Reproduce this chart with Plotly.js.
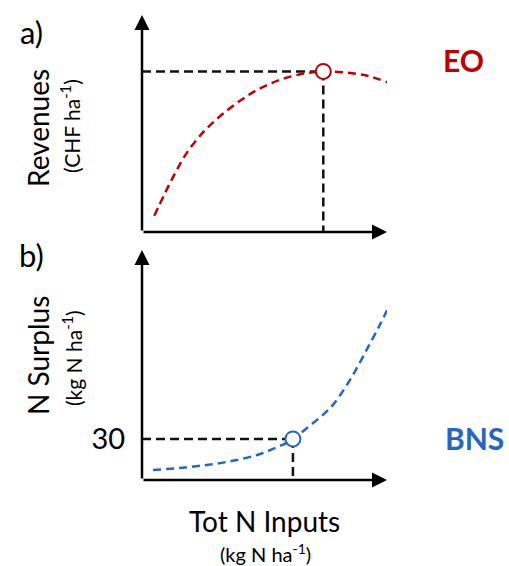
<!DOCTYPE html>
<html>
<head>
<meta charset="utf-8">
<script src="https://cdn.plot.ly/plotly-3.0.1.min.js"></script>
<style>html,body{margin:0;padding:0;background:#fff;}#chart{width:509px;height:566px;}</style>
</head>
<body>
<div id="chart"></div>
<script>
// Panel a: revenues (schematic), x in arbitrary units 0-100
const revX = [5, 9, 13, 18, 25, 32, 40, 47, 56, 66, 74, 82, 92, 100];
const revY = [7.5, 17, 26, 36, 46, 53.5, 60.5, 65.5, 70, 73, 74, 73.6, 72, 69];
const eoX = [74];
const eoY = [74];
// Panel b: N surplus (kg N/ha), x in same units
const surX = [4.5, 15.5, 26.5, 37, 47, 53.5, 59, 61.6, 67, 77, 84, 89, 93, 97, 100];
const surY = [7.3, 8.8, 11, 14, 18.3, 22.7, 27.1, 30, 37.5, 53, 70.5, 86, 99.5, 113, 124];
const bnsX = [61.6];
const bnsY = [30];
const yTickVals = [30];
const yTickText = ['30'];

const W = 509, H = 566;
const px = v => v / W;
const py = v => 1 - v / H;
const FONT = 'Lato, "Open Sans", sans-serif';
const RED = '#c00000';
const BLUE = '#2566c4';

const traces = [
  {x: [0, eoX[0]], y: [eoY[0], eoY[0]], xaxis: 'x', yaxis: 'y', mode: 'lines',
   line: {color: '#111', width: 2.5, dash: '9px,5px'}, hoverinfo: 'skip'},
  {x: [eoX[0], eoX[0]], y: [eoY[0], 0], xaxis: 'x', yaxis: 'y', mode: 'lines',
   line: {color: '#111', width: 2.5, dash: '9px,5px'}, hoverinfo: 'skip'},
  {x: revX, y: revY, xaxis: 'x', yaxis: 'y', mode: 'lines',
   line: {color: RED, width: 2.5, dash: '8px,5px', shape: 'spline'}},
  {x: eoX, y: eoY, xaxis: 'x', yaxis: 'y', mode: 'markers',
   marker: {symbol: 'circle', size: 15, color: '#fff', line: {color: RED, width: 2}}},

  {x: [0, bnsX[0]], y: [bnsY[0], bnsY[0]], xaxis: 'x2', yaxis: 'y2', mode: 'lines',
   line: {color: '#111', width: 2.5, dash: '9px,5px'}, hoverinfo: 'skip'},
  {x: [bnsX[0], bnsX[0]], y: [bnsY[0], 0], xaxis: 'x2', yaxis: 'y2', mode: 'lines',
   line: {color: '#111', width: 2.5, dash: '9px,5px'}, hoverinfo: 'skip'},
  {x: surX, y: surY, xaxis: 'x2', yaxis: 'y2', mode: 'lines',
   line: {color: BLUE, width: 2.5, dash: '8px,5px', shape: 'spline'}},
  {x: bnsX, y: bnsY, xaxis: 'x2', yaxis: 'y2', mode: 'markers',
   marker: {symbol: 'circle', size: 15, color: '#fff', line: {color: BLUE, width: 2}}}
];

const hidden = {showgrid: false, zeroline: false, showline: false, showticklabels: false, ticks: '', fixedrange: true};
const xd = [px(142), px(387)];

function arrow(xr, yr, x, y, ax, ay) {
  return {xref: xr, yref: yr, axref: xr, ayref: yr, x: x, y: y, ax: ax, ay: ay,
    showarrow: true, arrowhead: 2, arrowsize: 1.2, arrowwidth: 2.5, arrowcolor: '#000', text: '', standoff: 0, startstandoff: 0};
}
function label(x, y, text, size, opts) {
  return Object.assign({xref: 'paper', yref: 'paper', x: px(x), y: py(y), text: text,
    showarrow: false, xanchor: 'center', yanchor: 'middle',
    font: {family: FONT, size: size, color: '#000'}}, opts || {});
}

const layout = {
  width: W, height: H,
  margin: {l: 0, r: 0, t: 0, b: 0},
  paper_bgcolor: '#fff', plot_bgcolor: 'rgba(0,0,0,0)',
  showlegend: false,
  font: {family: FONT},
  xaxis: Object.assign({}, hidden, {domain: xd, range: [0, 100], anchor: 'y'}),
  yaxis: Object.assign({}, hidden, {domain: [py(232), py(15)], range: [0, 100], anchor: 'x'}),
  xaxis2: Object.assign({}, hidden, {domain: xd, range: [0, 100], anchor: 'y2'}),
  yaxis2: Object.assign({}, hidden, {domain: [py(480), py(250)], range: [0, 168], anchor: 'x2',
    showticklabels: true, tickvals: yTickVals, ticktext: yTickText, ticks: 'outside', ticklen: 10,
    tickcolor: 'rgba(0,0,0,0)', tickfont: {family: FONT, size: 29, color: '#000'}}),
  annotations: [
    arrow('x', 'y', 0, 100, 0, 0),
    arrow('x', 'y', 100, 0, 0, 0),
    arrow('x2', 'y2', 0, 168, 0, 0),
    arrow('x2', 'y2', 100, 0, 0, 0),
    label(31, 32, 'a)', 31),
    label(31, 255, 'b)', 31),
    label(38, 128, 'Revenues', 28, {textangle: -90}),
    label(70, 126, '(CHF ha<sup>-1</sup>)', 21, {textangle: -90}),
    label(38, 356, 'N Surplus', 28, {textangle: -90}),
    label(72, 358, '(kg N ha<sup>-1</sup>)', 21, {textangle: -90}),
    label(463, 60, '<b>EO</b>', 30, {font: {family: FONT, size: 30, color: RED}}),
    label(474, 438, '<b>BNS</b>', 30, {font: {family: FONT, size: 30, color: BLUE}}),
    label(264, 521, 'Tot N Inputs', 28),
    label(265, 553, '(kg N ha<sup>-1</sup>)', 20)
  ]
};

Plotly.newPlot('chart', traces, layout, {displayModeBar: false, staticPlot: true});
</script>
</body>
</html>
